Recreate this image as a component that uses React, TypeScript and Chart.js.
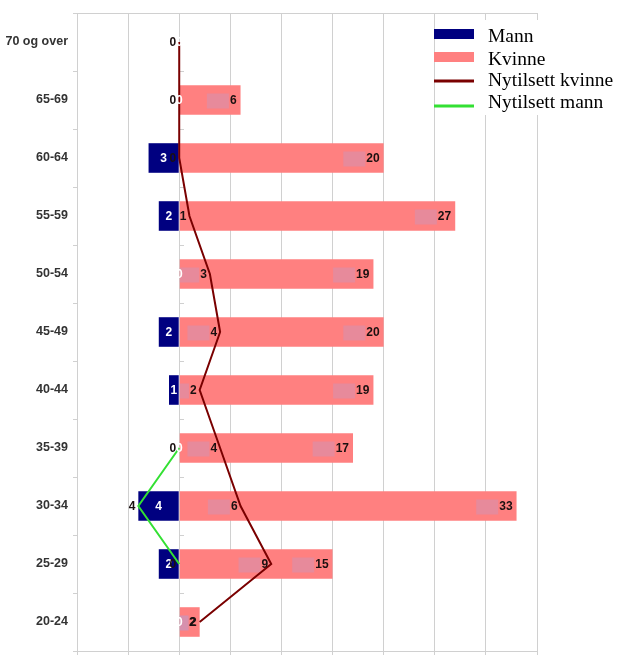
import React, { useEffect, useRef } from 'react';
import { Chart, registerables } from 'chart.js';

Chart.register(...registerables);

const categories = ['70 og over', '65-69', '60-64', '55-59', '50-54', '45-49', '40-44', '35-39', '30-34', '25-29', '20-24'];
const mann = [0, 0, -3, -2, 0, -2, -1, 0, -4, -2, 0];
const kvinne = [0, 6, 20, 27, 19, 20, 19, 17, 33, 15, 2];
const nytilsettKvinne = [0, 0, 0, 1, 3, 4, 2, 4, 6, 9, 2];
const nytilsettMann = [null, null, null, null, null, null, null, 0, -4, 0, null];

const X_MIN = -10;
const X_MAX = 35;
const X_STEP = 5;

const COL_MANN = '#000080';
const COL_KVINNE = '#ff8080';
const COL_NYK = '#7a0000';
const COL_NYM = '#33e033';
const GRID = '#d0d0d0';
const LABEL_FONT = 'bold 12px "Liberation Sans", Arial, sans-serif';
const PATCH = 'rgba(180,160,210,0.32)';

function barRect(el: any) {
  const p = el.getProps(['x', 'y', 'base', 'height'], true);
  const l = Math.min(p.x, p.base);
  const r = Math.max(p.x, p.base);
  return { l, r, t: p.y - p.height / 2, b: p.y + p.height / 2, y: p.y, x: p.x, base: p.base };
}

function drawPatch(ctx: CanvasRenderingContext2D, bar: any, right: number, y: number) {
  const w = 22, h = 15;
  const left = Math.max(right - w, bar.l);
  const r = Math.min(right, bar.r);
  const t = Math.max(y - h / 2, bar.t);
  const b = Math.min(y + h / 2, bar.b);
  if (r - left <= 0 || b - t <= 0) return;
  ctx.fillStyle = PATCH;
  ctx.fillRect(left, t, r - left, b - t);
}

const framePlugin = {
  id: 'frame',
  beforeDatasetsDraw(chart: any) {
    const { ctx, chartArea, scales } = chart;
    ctx.save();
    ctx.strokeStyle = GRID;
    ctx.lineWidth = 1;
    ctx.beginPath();
    ctx.moveTo(chartArea.left, Math.round(chartArea.top) + 0.5);
    ctx.lineTo(chartArea.right, Math.round(chartArea.top) + 0.5);
    const x0 = Math.round(scales.x.getPixelForValue(0));
    const ys = scales.y;
    const half = (ys.getPixelForValue(1) - ys.getPixelForValue(0)) / 2;
    for (let i = 1; i < categories.length; i++) {
      const yy = Math.round(ys.getPixelForValue(i) - half) + 0.5;
      ctx.moveTo(x0, yy);
      ctx.lineTo(x0 + 5, yy);
    }
    ctx.stroke();
    ctx.restore();
  },
};

const labelPlugin = {
  id: 'valueLabels',
  afterDatasetDraw(chart: any, args: any) {
    if (args.index !== 1) return;
    const ctx = chart.ctx as CanvasRenderingContext2D;
    const kMeta = chart.getDatasetMeta(1);
    const lkMeta = chart.getDatasetMeta(2);
    const lmMeta = chart.getDatasetMeta(3);
    ctx.save();
    ctx.font = LABEL_FONT;
    kvinne.forEach((v, i) => {
      if (!v) return;
      const bar = barRect(kMeta.data[i]);
      const txt = String(v);
      const right = bar.x - 4;
      drawPatch(ctx, bar, right - ctx.measureText(txt).width - 1, bar.y + 1);
    });
    const lineSets: [any, (number | null)[]][] = [[lkMeta, nytilsettKvinne], [lmMeta, nytilsettMann]];
    lineSets.forEach(([meta, vals]) => {
      vals.forEach((v, i) => {
        if (v === null) return;
        const pt = meta.data[i];
        const bar = barRect(kMeta.data[i]);
        const txt = String(Math.abs(v));
        const right = pt.x - 3;
        drawPatch(ctx, bar, right - ctx.measureText(txt).width - 1, pt.y + 1);
      });
    });
    ctx.restore();
  },
  afterDatasetsDraw(chart: any) {
    const ctx = chart.ctx as CanvasRenderingContext2D;
    const mMeta = chart.getDatasetMeta(0);
    const kMeta = chart.getDatasetMeta(1);
    const lkMeta = chart.getDatasetMeta(2);
    const lmMeta = chart.getDatasetMeta(3);
    ctx.save();
    ctx.font = LABEL_FONT;
    ctx.textBaseline = 'middle';
    ctx.fillStyle = '#ffffff';
    ctx.textAlign = 'center';
    mann.forEach((v, i) => {
      const bar = barRect(mMeta.data[i]);
      ctx.fillText(String(Math.abs(v)), (bar.x + bar.base) / 2, bar.y + 1);
    });
    ctx.fillStyle = '#1a1010';
    ctx.textAlign = 'right';
    kvinne.forEach((v, i) => {
      if (!v) return;
      const bar = barRect(kMeta.data[i]);
      ctx.fillText(String(v), bar.x - 4, bar.y + 1);
    });
    const lineSets: [any, (number | null)[]][] = [[lmMeta, nytilsettMann], [lkMeta, nytilsettKvinne]];
    lineSets.forEach(([meta, vals]) => {
      vals.forEach((v, i) => {
        if (v === null) return;
        const pt = meta.data[i];
        ctx.fillText(String(Math.abs(v)), pt.x - 3, pt.y + 1);
      });
    });
    ctx.restore();
  },
};

const legendPlugin = {
  id: 'overlayLegend',
  afterDraw(chart: any) {
    const ctx = chart.ctx as CanvasRenderingContext2D;
    const ds = chart.data.datasets;
    const boxX = 436, boxY = 20, boxW = 185, boxH = 95;
    const swX = 434, swW = 40, txtX = 488;
    const swY = [34, 57, 81, 106];
    const txY = [37, 60, 81, 103];
    ctx.save();
    ctx.fillStyle = '#ffffff';
    ctx.fillRect(boxX, boxY, boxW, boxH);
    ds.forEach((d: any, i: number) => {
      const isBar = d.type === 'bar';
      ctx.fillStyle = isBar ? d.backgroundColor : d.borderColor;
      const h = isBar ? 10 : 3;
      ctx.fillRect(swX, swY[i] - h / 2, swW, h);
      ctx.fillStyle = '#000000';
      ctx.font = '19.5px "Liberation Serif", "Times New Roman", serif';
      ctx.textAlign = 'left';
      ctx.textBaseline = 'middle';
      ctx.fillText(d.label, txtX, txY[i]);
    });
    ctx.restore();
  },
};

export default function App() {
  const ref = useRef<HTMLCanvasElement>(null);
  useEffect(() => {
    if (!ref.current) return;
    const chart = new Chart(ref.current, {
      type: 'bar',
      data: {
        labels: categories,
        datasets: [
          { type: 'bar', label: 'Mann', data: mann, backgroundColor: COL_MANN, grouped: false, barPercentage: 0.51, categoryPercentage: 1, order: 1 },
          { type: 'bar', label: 'Kvinne', data: kvinne, backgroundColor: COL_KVINNE, grouped: false, barPercentage: 0.51, categoryPercentage: 1, order: 1 },
          { type: 'line', label: 'Nytilsett kvinne', data: nytilsettKvinne, borderColor: COL_NYK, backgroundColor: COL_NYK, borderWidth: 2, pointRadius: 0, tension: 0, order: 0 },
          { type: 'line', label: 'Nytilsett mann', data: nytilsettMann, borderColor: COL_NYM, backgroundColor: COL_NYM, borderWidth: 2, pointRadius: 0, tension: 0, order: 0, spanGaps: false },
        ] as any,
      },
      options: {
        indexAxis: 'y',
        responsive: false,
        animation: false,
        devicePixelRatio: 1,
        layout: { padding: { top: 13, right: 84, left: 0, bottom: 0 } },
        plugins: { legend: { display: false }, tooltip: { enabled: false } },
        scales: {
          x: {
            type: 'linear',
            min: X_MIN,
            max: X_MAX,
            ticks: { stepSize: X_STEP, display: false },
            grid: { color: GRID, lineWidth: 1, tickLength: 4, drawTicks: true },
            border: { display: true, color: GRID },
            afterFit: (s: any) => { s.height = 19; },
          },
          y: {
            type: 'category',
            ticks: { font: { family: '"Liberation Sans", Arial, sans-serif', size: 12.5, weight: 'bold' }, color: '#333333', padding: 5 },
            grid: { drawOnChartArea: false, tickLength: 4, color: GRID, offset: true },
            border: { display: true, color: GRID },
            afterFit: (s: any) => { s.width = 77; },
          },
        },
      } as any,
      plugins: [framePlugin, labelPlugin, legendPlugin],
    });
    return () => chart.destroy();
  }, []);
  return (
    <div style={{ position: 'absolute', left: 0, top: 0, width: 621, height: 670, background: '#fff' }}>
      <canvas ref={ref} width={621} height={670} />
    </div>
  );
}
